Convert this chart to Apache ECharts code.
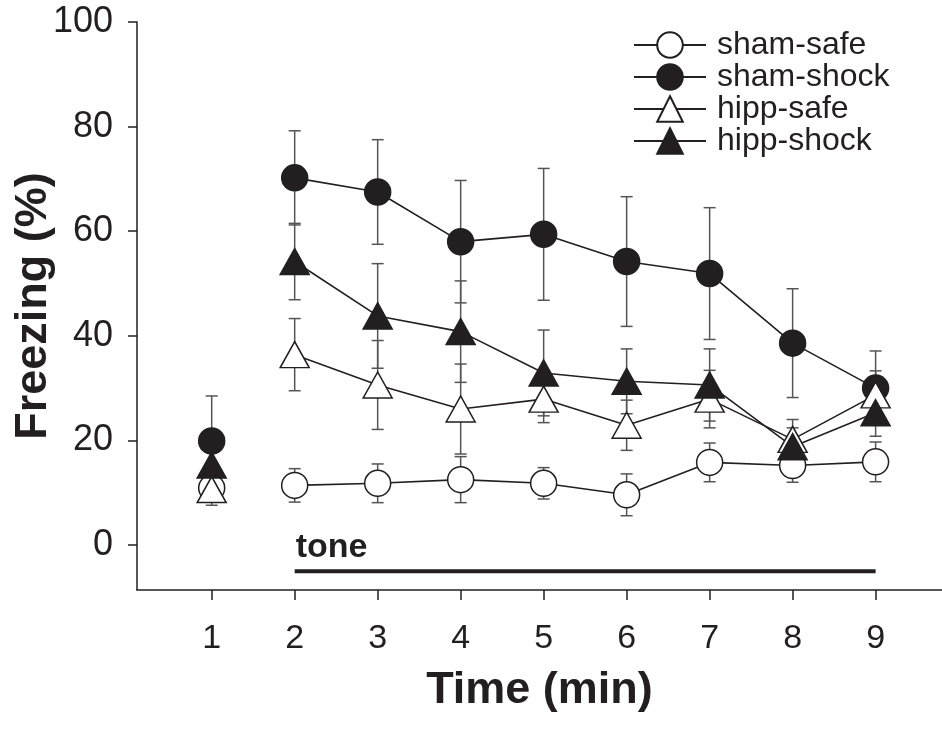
<!DOCTYPE html>
<html>
<head>
<meta charset="utf-8">
<title>Freezing over time</title>
<script src="https://cdn.jsdelivr.net/npm/echarts@6/dist/echarts.min.js"></script>
<style>
  html, body { margin: 0; padding: 0; background: #fff; }
  #chart { width: 942px; height: 734px; }
</style>
</head>
<body>
<div id="chart"></div>
<script>
// time points (min)
const times = [1, 2, 3, 4, 5, 6, 7, 8, 9]
const tickValues = [1, 2, 3, 4, 5, 6, 7, 8, 9]
const yTicks = [0, 20, 40, 60, 80, 100]

// mean freezing (%) and SEM per group
const shamSafe = [10.9, 11.4, 11.8, 12.5, 11.8, 9.6, 15.8, 15.2, 15.9]
const shamSafeSem = [2.5, 3.2, 3.7, 4.4, 3.0, 4.0, 3.7, 3.2, 3.8]
const shamShock = [19.9, 70.2, 67.5, 58.0, 59.4, 54.2, 51.9, 38.6, 30.0]
const shamShockSem = [8.6, 9.0, 10.0, 11.7, 12.6, 12.4, 12.6, 10.4, 7.1]
const hippSafe = [10.6, 36.4, 30.6, 26.0, 27.9, 22.9, 27.9, 20.2, 28.7]
const hippSafeSem = [3.0, 6.9, 8.5, 8.6, 4.5, 4.8, 5.5, 3.8, 4.6]
const hippShock = [15.3, 54.2, 43.8, 40.8, 32.9, 31.3, 30.6, 18.8, 25.3]
const hippShockSem = [4.0, 7.3, 10.0, 9.7, 8.2, 6.2, 6.9, 3.6, 4.5]

// tone period bar
const toneStart = 2
const toneEnd = 9
const toneLevel = -5

const ink = '#231f20'
const font = 'Liberation Sans, Arial, sans-serif'

const chart = echarts.init(document.getElementById('chart'))

// first point is baseline, not joined to the tone period
function lineData(vals) {
  const d = times.map((t, i) => [t, vals[i]])
  d.splice(1, 0, [(times[0] + times[1]) / 2, '-'])
  return d
}

function errData(vals, sem) {
  return times.map((t, i) => [t, vals[i], sem[i]])
}

function renderErr(params, api) {
  const x = api.value(0)
  const y = api.value(1)
  const e = api.value(2)
  const top = api.coord([x, y + e])
  const bot = api.coord([x, y - e])
  const w = 6
  const style = { stroke: '#555', lineWidth: 1.5 }
  return {
    type: 'group',
    children: [
      { type: 'line', shape: { x1: top[0], y1: top[1], x2: bot[0], y2: bot[1] }, style },
      { type: 'line', shape: { x1: top[0] - w, y1: top[1], x2: top[0] + w, y2: top[1] }, style },
      { type: 'line', shape: { x1: bot[0] - w, y1: bot[1], x2: bot[0] + w, y2: bot[1] }, style }
    ]
  }
}

const groups = [
  { name: 'sham-safe', vals: shamSafe, sem: shamSafeSem, symbol: 'circle', size: 26, fill: '#fff' },
  { name: 'sham-shock', vals: shamShock, sem: shamShockSem, symbol: 'circle', size: 26, fill: ink },
  { name: 'hipp-safe', vals: hippSafe, sem: hippSafeSem, symbol: 'triangle', size: [29, 26], fill: '#fff' },
  { name: 'hipp-shock', vals: hippShock, sem: hippShockSem, symbol: 'triangle', size: [29, 26], fill: ink }
]

const series = []
groups.forEach(g => {
  series.push({
    type: 'custom',
    name: g.name + '-err',
    renderItem: renderErr,
    data: errData(g.vals, g.sem),
    z: 1,
    silent: true
  })
})
groups.forEach(g => {
  series.push({
    type: 'line',
    name: g.name,
    data: lineData(g.vals),
    symbol: g.symbol,
    symbolSize: g.size,
    showAllSymbol: true,
    connectNulls: false,
    lineStyle: { color: ink, width: 1.6 },
    itemStyle: { color: g.fill, borderColor: ink, borderWidth: 1.5, opacity: 1 },
    z: 2
  })
})

series.push({
  type: 'line',
  name: 'tone',
  data: [[toneStart, toneLevel], [toneEnd, toneLevel]],
  symbol: 'none',
  lineStyle: { color: ink, width: 4 },
  z: 2,
  silent: true
})
series.push({
  type: 'scatter',
  name: 'tone-label',
  data: [[toneStart, toneLevel]],
  symbolSize: 0,
  itemStyle: { color: ink, opacity: 1 },
  label: {
    show: true,
    formatter: 'tone',
    position: [1, -41],
    color: ink,
    fontFamily: font,
    fontWeight: 'bold',
    fontSize: 34
  },
  z: 3,
  silent: true
})

chart.setOption({
  animation: false,
  grid: { left: 137, right: 0, top: 22, bottom: 144, containLabel: false, outerBoundsMode: 'none' },
  legend: {
    data: groups.map(g => g.name),
    orient: 'vertical',
    left: 633,
    top: 29,
    padding: 0,
    itemWidth: 72,
    itemHeight: 32,
    itemGap: 0,
    textStyle: { color: ink, fontFamily: font, fontSize: 32, padding: [0, 0, 0, 6] }
  },
  xAxis: {
    type: 'value',
    min: 0.1,
    max: 9.8,
    name: 'Time (min)',
    nameLocation: 'middle',
    nameGap: 78,
    nameTextStyle: { color: ink, fontFamily: font, fontWeight: 'bold', fontSize: 45 },
    axisLine: { onZero: false, lineStyle: { color: ink, width: 1.5 } },
    axisTick: { customValues: tickValues, length: 10, lineStyle: { color: ink, width: 1.5 } },
    axisLabel: { customValues: tickValues, margin: 32, color: ink, fontFamily: font, fontSize: 34 },
    splitLine: { show: false }
  },
  yAxis: {
    type: 'value',
    min: -8.6,
    max: 100,
    name: 'Freezing (%)',
    nameLocation: 'middle',
    nameGap: 81,
    nameMoveOverlap: false,
    nameTextStyle: { color: ink, fontFamily: font, fontWeight: 'bold', fontSize: 45 },
    axisLine: { show: true, onZero: false, lineStyle: { color: ink, width: 1.5 } },
    axisTick: { show: true, customValues: yTicks, length: 9, lineStyle: { color: ink, width: 1.5 } },
    axisLabel: { customValues: yTicks, margin: 24, color: ink, fontFamily: font, fontSize: 36 },
    splitLine: { show: false }
  },
  series: series
})
</script>
</body>
</html>
